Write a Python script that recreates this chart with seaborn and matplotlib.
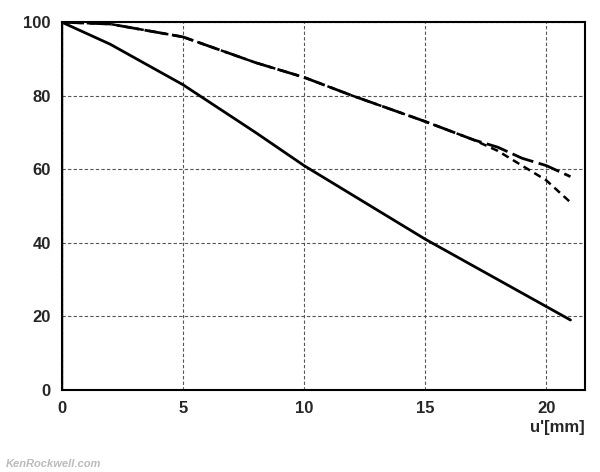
import matplotlib
matplotlib.use("Agg")
import matplotlib.pyplot as plt
import seaborn as sns

sns.set_theme(style="white")
plt.rcParams['font.family'] = ['Liberation Sans', 'DejaVu Sans']

x_s = [0, 0, 2, 5, 8, 10, 12, 15, 18, 21]
y_s = [0, 100, 94, 83, 70, 61, 53, 41, 30, 19]
x_d = [0, 2, 5, 8, 10, 12, 15, 17, 18, 19, 20, 21]
y_d = [100, 99.5, 96, 89, 85, 80, 73, 68, 66, 63, 61, 58]
x_t = [0, 2, 5, 8, 10, 12, 15, 17, 18, 19, 20, 21]
y_t = [100, 99.5, 96, 89, 85, 80, 73, 68, 65, 61, 57, 51]

fig = plt.figure(figsize=(6, 4.72), dpi=100)
ax = fig.add_axes([0.103, 0.174, 0.872, 0.779])
sns.lineplot(x=x_s, y=y_s, sort=False, estimator=None, color='black', lw=2, ax=ax)
sns.lineplot(x=x_d, y=y_d, sort=False, estimator=None, color='black', lw=2, ax=ax, linestyle=(0, (8, 2)))
sns.lineplot(x=x_t, y=y_t, sort=False, estimator=None, color='black', lw=1.8, ax=ax, linestyle=(0, (3, 2)))
ax.set_xlim(0, 21.6)
ax.set_ylim(0, 100)
ax.set_xticks([0, 5, 10, 15, 20])
ax.set_yticks([0, 20, 40, 60, 80, 100])
ax.grid(True, color='#555555', linestyle=(0, (3, 2)), lw=0.8)
for s in ax.spines.values():
    s.set_color('black'); s.set_linewidth(1.5)
ax.tick_params(labelsize=12, length=0, pad=8)
for t in ax.get_xticklabels() + ax.get_yticklabels():
    t.set_fontweight('bold')
fig.text(0.975, 0.085, "u'[mm]", ha='right', fontsize=12, fontweight='bold')
fig.text(0.01, 0.01, "KenRockwell.com", fontsize=8, color='#bbbbbb', style='italic', fontweight='bold')
fig.savefig("out.png", dpi=100)
